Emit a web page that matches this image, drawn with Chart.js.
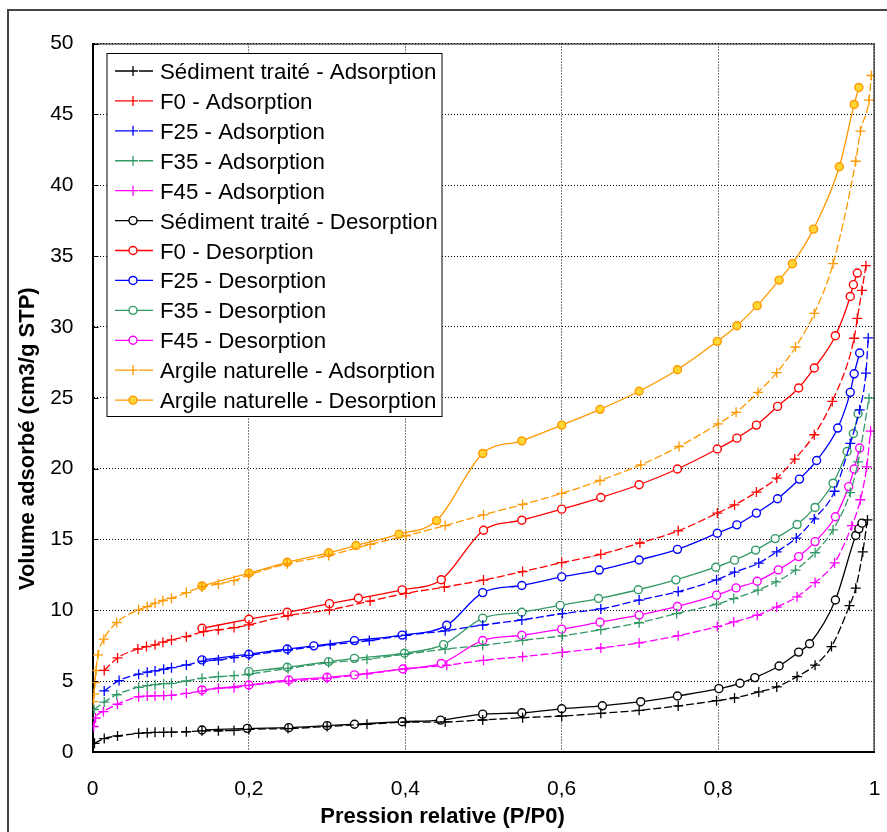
<!DOCTYPE html>
<html>
<head>
<meta charset="utf-8">
<title>Isothermes d'adsorption-désorption</title>
<script src="https://cdn.jsdelivr.net/npm/chart.js@4.4.1/dist/chart.umd.min.js"></script>
<style>
  html, body { margin: 0; padding: 0; background: #fff; overflow: hidden; }
  #wrap { position: relative; width: 887px; height: 832px; }
  #frame { position: absolute; left: 7px; top: 9px; width: 900px; height: 900px;
           border-top: 2px solid #444; border-left: 2px solid #444; pointer-events: none; }
</style>
</head>
<body>
<div id="wrap">
  <canvas id="isoChart"></canvas>
  <div id="frame"></div>
</div>
<script>
// ---- data (P/P0, cm3/g STP) ----
var xTickValues = [0, 0.2, 0.4, 0.6, 0.8, 1];
var xTickLabels = ['0', '0,2', '0,4', '0,6', '0,8', '1'];
var yTickValues = [0, 5, 10, 15, 20, 25, 30, 35, 40, 45, 50];
var yTickLabels = ['0', '5', '10', '15', '20', '25', '30', '35', '40', '45', '50'];

var X_TITLE = 'Pression relative (P/P0)';
var Y_TITLE = 'Volume adsorbé (cm3/g STP)';

var seriesLabels = [
  'Sédiment traité - Adsorption',
  'F0 - Adsorption',
  'F25 - Adsorption',
  'F35 - Adsorption',
  'F45 - Adsorption',
  'Sédiment traité - Desorption',
  'F0 - Desorption',
  'F25 - Desorption',
  'F35 - Desorption',
  'F45 - Desorption',
  'Argile naturelle - Adsorption',
  'Argile naturelle - Desorption'
];

var sedAdsX = [0.0026, 0.015, 0.032, 0.059, 0.07, 0.08, 0.091, 0.101, 0.12, 0.14, 0.161, 0.181, 0.2, 0.25, 0.3, 0.351, 0.4, 0.451, 0.499, 0.55, 0.6, 0.65, 0.699, 0.749, 0.798, 0.821, 0.852, 0.875, 0.901, 0.924, 0.945, 0.968, 0.976, 0.985, 0.991];
var sedAdsY = [0.61, 0.95, 1.13, 1.32, 1.36, 1.39, 1.39, 1.4, 1.43, 1.5, 1.5, 1.52, 1.6, 1.65, 1.8, 1.96, 2.1, 2.12, 2.26, 2.42, 2.54, 2.73, 2.94, 3.25, 3.62, 3.81, 4.24, 4.59, 5.32, 6.13, 7.44, 10.33, 11.56, 14.12, 16.38];

var f0AdsX = [0.015, 0.032, 0.058, 0.069, 0.08, 0.09, 0.101, 0.12, 0.142, 0.161, 0.181, 0.2, 0.25, 0.303, 0.355, 0.401, 0.45, 0.5, 0.55, 0.6, 0.65, 0.7, 0.749, 0.799, 0.821, 0.849, 0.875, 0.898, 0.923, 0.946, 0.974, 0.978, 0.984, 0.989];
var f0AdsY = [5.76, 6.64, 7.27, 7.44, 7.56, 7.75, 7.91, 8.14, 8.5, 8.62, 8.78, 8.97, 9.63, 10.03, 10.65, 11.2, 11.64, 12.13, 12.73, 13.36, 13.95, 14.75, 15.61, 16.86, 17.44, 18.34, 19.33, 20.67, 22.39, 24.74, 29.2, 30.6, 32.58, 34.32];

var f25AdsX = [0.015, 0.034, 0.059, 0.07, 0.08, 0.091, 0.101, 0.12, 0.142, 0.161, 0.181, 0.2, 0.25, 0.304, 0.354, 0.401, 0.451, 0.499, 0.549, 0.601, 0.65, 0.699, 0.749, 0.798, 0.821, 0.852, 0.875, 0.9, 0.923, 0.949, 0.969, 0.981, 0.989, 0.992];
var f25AdsY = [4.31, 5.04, 5.49, 5.63, 5.72, 5.84, 5.95, 6.14, 6.42, 6.5, 6.66, 6.82, 7.2, 7.56, 7.86, 8.24, 8.55, 8.96, 9.32, 9.77, 10.1, 10.72, 11.32, 12.15, 12.69, 13.33, 14.13, 15.1, 16.45, 18.4, 21.78, 24.15, 26.74, 29.22];

var f35AdsX = [0.002, 0.015, 0.031, 0.059, 0.07, 0.08, 0.091, 0.101, 0.12, 0.14, 0.161, 0.181, 0.2, 0.25, 0.302, 0.351, 0.4, 0.451, 0.499, 0.55, 0.601, 0.65, 0.699, 0.747, 0.798, 0.82, 0.851, 0.874, 0.899, 0.924, 0.947, 0.969, 0.979, 0.993];
var f35AdsY = [3.0, 3.52, 4.04, 4.57, 4.68, 4.75, 4.82, 4.85, 5.01, 5.2, 5.32, 5.39, 5.5, 5.9, 6.3, 6.54, 6.9, 7.26, 7.53, 7.88, 8.2, 8.63, 9.12, 9.77, 10.43, 10.83, 11.42, 12.0, 12.84, 14.06, 15.68, 18.31, 20.47, 24.97];

var f45AdsX = [0.0015, 0.004, 0.014, 0.032, 0.059, 0.07, 0.08, 0.091, 0.101, 0.12, 0.14, 0.161, 0.181, 0.2, 0.251, 0.3, 0.351, 0.4, 0.453, 0.5, 0.55, 0.601, 0.65, 0.699, 0.749, 0.799, 0.82, 0.85, 0.875, 0.901, 0.924, 0.949, 0.971, 0.982, 0.99, 0.995];
var f45AdsY = [1.8, 2.4, 2.85, 3.37, 3.9, 3.95, 3.97, 3.98, 4.0, 4.14, 4.3, 4.5, 4.54, 4.7, 5.0, 5.2, 5.51, 5.86, 6.12, 6.47, 6.73, 7.03, 7.34, 7.7, 8.21, 8.85, 9.18, 9.65, 10.23, 10.95, 11.96, 13.35, 15.97, 17.8, 20.12, 22.65];

var sedDesX = [0.14, 0.198, 0.251, 0.3, 0.335, 0.396, 0.445, 0.499, 0.549, 0.6, 0.652, 0.701, 0.748, 0.801, 0.828, 0.847, 0.878, 0.903, 0.917, 0.95, 0.976, 0.98, 0.984];
var sedDesY = [1.55, 1.67, 1.72, 1.86, 1.96, 2.14, 2.25, 2.67, 2.77, 3.05, 3.26, 3.55, 3.95, 4.47, 4.85, 5.25, 6.07, 7.05, 7.64, 10.73, 15.28, 15.75, 16.15];

var f0DesX = [0.14, 0.2, 0.249, 0.303, 0.34, 0.396, 0.446, 0.5, 0.549, 0.6, 0.65, 0.699, 0.748, 0.799, 0.824, 0.849, 0.876, 0.903, 0.923, 0.95, 0.969, 0.973, 0.978];
var f0DesY = [8.73, 9.37, 9.86, 10.47, 10.85, 11.44, 12.16, 15.65, 16.36, 17.14, 17.96, 18.86, 19.97, 21.38, 22.15, 23.07, 24.39, 25.69, 27.1, 29.38, 32.15, 32.98, 33.8];

var f25DesX = [0.14, 0.2, 0.249, 0.283, 0.335, 0.396, 0.453, 0.499, 0.549, 0.6, 0.648, 0.699, 0.748, 0.799, 0.824, 0.849, 0.876, 0.904, 0.926, 0.953, 0.969, 0.974, 0.981];
var f25DesY = [6.5, 6.9, 7.27, 7.49, 7.86, 8.25, 8.94, 11.25, 11.75, 12.36, 12.84, 13.55, 14.3, 15.44, 16.03, 16.86, 17.87, 19.26, 20.57, 22.86, 25.38, 26.69, 28.16];

var f35DesX = [0.2, 0.249, 0.302, 0.335, 0.399, 0.449, 0.499, 0.549, 0.598, 0.647, 0.698, 0.746, 0.797, 0.821, 0.848, 0.873, 0.901, 0.924, 0.947, 0.965, 0.973, 0.979];
var f35DesY = [5.67, 5.98, 6.38, 6.61, 6.97, 7.58, 9.45, 9.86, 10.35, 10.83, 11.45, 12.15, 13.04, 13.54, 14.25, 15.06, 16.05, 17.26, 18.97, 21.21, 22.48, 23.87];

var f45DesX = [0.14, 0.2, 0.251, 0.3, 0.335, 0.397, 0.446, 0.499, 0.549, 0.6, 0.649, 0.699, 0.748, 0.798, 0.823, 0.85, 0.877, 0.903, 0.924, 0.95, 0.967, 0.974, 0.981];
var f45DesY = [4.38, 4.73, 5.08, 5.27, 5.44, 5.86, 6.25, 7.87, 8.24, 8.67, 9.16, 9.66, 10.27, 11.07, 11.58, 12.05, 12.85, 13.79, 14.85, 16.6, 18.73, 19.97, 21.45];

var argAdsX = [0.001, 0.002, 0.003, 0.0045, 0.007, 0.0145, 0.031, 0.059, 0.07, 0.08, 0.09, 0.101, 0.12, 0.14, 0.161, 0.181, 0.2, 0.249, 0.302, 0.355, 0.401, 0.451, 0.5, 0.55, 0.6, 0.649, 0.701, 0.75, 0.8, 0.823, 0.851, 0.875, 0.899, 0.923, 0.947, 0.976, 0.982, 0.993, 0.996];
var argAdsY = [3.56, 4.1, 4.89, 5.75, 6.85, 7.96, 9.14, 10.03, 10.26, 10.5, 10.69, 10.85, 11.25, 11.65, 11.86, 12.1, 12.5, 13.28, 13.87, 14.65, 15.26, 15.98, 16.74, 17.47, 18.25, 19.16, 20.26, 21.56, 23.16, 23.97, 25.38, 26.77, 28.58, 30.95, 34.46, 41.69, 43.81, 46.0, 47.74];

var argDesX = [0.14, 0.2, 0.249, 0.302, 0.337, 0.392, 0.44, 0.499, 0.549, 0.6, 0.649, 0.699, 0.748, 0.799, 0.824, 0.85, 0.878, 0.895, 0.922, 0.955, 0.974, 0.98];
var argDesY = [11.72, 12.62, 13.39, 14.06, 14.57, 15.37, 16.33, 21.07, 21.96, 23.07, 24.18, 25.46, 26.98, 28.98, 30.08, 31.5, 33.3, 34.46, 36.9, 41.3, 45.7, 46.9];

(function () {
  var FONT = '"Liberation Sans", Arial, sans-serif';

  // Excel-like palette
  var C = {
    sed: '#000000',
    f0: '#FF0000',
    f25: '#0000FF',
    f35: '#339966',
    f45: '#FF00FF',
    arg: '#FF9900',
    argFill: '#FFD633'
  };

  function pts(xs, ys) {
    return xs.map(function (x, i) { return { x: x, y: ys[i] }; });
  }

  // adsorption = dashed line + cross, desorption = solid line + open circle
  function series(label, xs, ys, color, ads, fill) {
    return {
      label: label,
      data: pts(xs, ys),
      borderColor: color,
      borderWidth: 1.3,
      borderDash: ads ? [8, 3] : [],
      pointStyle: ads ? 'cross' : 'circle',
      pointRadius: ads ? 5 : 4,
      pointBorderWidth: ads ? 1.3 : 1.4,
      pointBorderColor: color,
      pointBackgroundColor: fill || '#fff',
      cubicInterpolationMode: 'monotone',
      fill: false
    };
  }

  var datasets = [
    series(seriesLabels[0], sedAdsX, sedAdsY, C.sed, true),
    series(seriesLabels[1], f0AdsX, f0AdsY, C.f0, true),
    series(seriesLabels[2], f25AdsX, f25AdsY, C.f25, true),
    series(seriesLabels[3], f35AdsX, f35AdsY, C.f35, true),
    series(seriesLabels[4], f45AdsX, f45AdsY, C.f45, true),
    series(seriesLabels[5], sedDesX, sedDesY, C.sed, false),
    series(seriesLabels[6], f0DesX, f0DesY, C.f0, false),
    series(seriesLabels[7], f25DesX, f25DesY, C.f25, false),
    series(seriesLabels[8], f35DesX, f35DesY, C.f35, false),
    series(seriesLabels[9], f45DesX, f45DesY, C.f45, false),
    series(seriesLabels[10], argAdsX, argAdsY, C.arg, true),
    series(seriesLabels[11], argDesX, argDesY, C.arg, false, C.argFill)
  ];

  function drawMarker(ctx, ds, x, y) {
    ctx.setLineDash([]);
    ctx.strokeStyle = ds.pointBorderColor;
    ctx.lineWidth = ds.pointBorderWidth;
    ctx.beginPath();
    if (ds.pointStyle === 'cross') {
      var r = ds.pointRadius;
      ctx.moveTo(x - r, y); ctx.lineTo(x + r, y);
      ctx.moveTo(x, y - r); ctx.lineTo(x, y + r);
      ctx.stroke();
    } else {
      ctx.arc(x, y, ds.pointRadius, 0, Math.PI * 2);
      ctx.fillStyle = ds.pointBackgroundColor;
      ctx.fill();
      ctx.stroke();
    }
  }

  // Boxed legend in the upper-left corner of the plot
  function drawLegend(chart) {
    var ctx = chart.ctx;
    var a = chart.chartArea;
    var bx = a.left + 14.5, by = a.top + 10, bw = 335, bh = 363;
    ctx.fillStyle = '#fff';
    ctx.fillRect(bx, by, bw, bh);
    ctx.strokeStyle = '#000';
    ctx.lineWidth = 1;
    ctx.setLineDash([]);
    ctx.strokeRect(bx, by, bw, bh);

    chart.data.datasets.forEach(function (ds, i) {
      var y = by + 17.5 + i * 29.92;
      ctx.strokeStyle = ds.borderColor;
      ctx.lineWidth = ds.borderWidth;
      ctx.setLineDash([]);
      ctx.beginPath();
      if (ds.pointStyle === 'cross') {
        ctx.moveTo(bx + 8, y); ctx.lineTo(bx + 21, y);
        ctx.moveTo(bx + 32, y); ctx.lineTo(bx + 46, y);
      } else {
        ctx.moveTo(bx + 8, y); ctx.lineTo(bx + 46, y);
      }
      ctx.stroke();
      drawMarker(ctx, ds, bx + 26, y);

      ctx.fillStyle = '#000';
      ctx.font = '22.3px ' + FONT;
      ctx.textAlign = 'left';
      ctx.textBaseline = 'alphabetic';
      ctx.fillText(ds.label, bx + 53, y + 8);
    });
  }

  var extrasPlugin = {
    id: 'isoExtras',
    afterDraw: function (chart) {
      var ctx = chart.ctx;
      var a = chart.chartArea;
      ctx.save();

      // thin top/right frame of the plot area
      ctx.strokeStyle = '#000';
      ctx.lineWidth = 1;
      ctx.setLineDash([]);
      ctx.beginPath();
      ctx.moveTo(a.left, a.top + 0.5);
      ctx.lineTo(a.right - 0.5, a.top + 0.5);
      ctx.lineTo(a.right - 0.5, a.bottom);
      ctx.stroke();

      // short inner tick marks on the value axis
      var ys = chart.scales.y;
      ys.ticks.forEach(function (t) {
        var py = Math.round(ys.getPixelForValue(t.value)) + 0.5;
        ctx.beginPath();
        ctx.moveTo(a.left, py);
        ctx.lineTo(a.left + 6, py);
        ctx.stroke();
      });

      // axis titles (Excel places them off-centre)
      ctx.fillStyle = '#000';
      ctx.font = 'bold 22px ' + FONT;
      ctx.textAlign = 'center';
      ctx.textBaseline = 'alphabetic';
      ctx.fillText(X_TITLE, (a.left + a.right) / 2 - 41, chart.height - 9);
      ctx.save();
      ctx.translate(34, (a.top + a.bottom) / 2 + 41);
      ctx.rotate(-Math.PI / 2);
      ctx.fillText(Y_TITLE, 0, 0);
      ctx.restore();

      drawLegend(chart);
      ctx.restore();
    }
  };

  var tickFont = { family: FONT, size: 21 };

  new Chart(document.getElementById('isoChart'), {
    type: 'line',
    plugins: [extrasPlugin],
    data: { datasets: datasets },
    options: {
      responsive: true,
      maintainAspectRatio: false,
      animation: false,
      layout: { padding: { left: 0, top: 43.5, right: 12.5, bottom: 0 } },
      plugins: {
        legend: { display: false },
        tooltip: { enabled: false }
      },
      scales: {
        x: {
          type: 'linear',
          min: 0,
          max: 1,
          afterBuildTicks: function (s) {
            s.ticks = xTickValues.map(function (v) { return { value: v }; });
          },
          afterFit: function (s) {
            s.height = 80;
            s.paddingLeft = 0;
            s.paddingRight = 0;
          },
          ticks: {
            color: '#000',
            font: tickFont,
            padding: 25,
            maxRotation: 0,
            autoSkip: false,
            callback: function (v, i) { return xTickLabels[i]; }
          },
          grid: { color: '#000', lineWidth: 1, drawTicks: false },
          border: { color: '#000', width: 2, dash: [1, 2] }
        },
        y: {
          min: 0,
          max: 50,
          afterBuildTicks: function (s) {
            s.ticks = yTickValues.map(function (v) { return { value: v }; });
          },
          afterFit: function (s) {
            s.width = 92.5;
            s.paddingTop = 0;
            s.paddingBottom = 0;
          },
          ticks: {
            color: '#000',
            font: tickFont,
            padding: 19,
            autoSkip: false,
            callback: function (v, i) { return yTickLabels[i]; }
          },
          grid: { color: '#000', lineWidth: 1, drawTicks: false },
          border: { color: '#000', width: 2, dash: [1, 2] }
        }
      }
    }
  });
})();
</script>
</body>
</html>
